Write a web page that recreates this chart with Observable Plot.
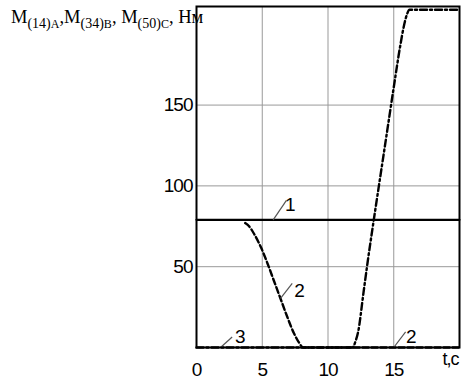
<!DOCTYPE html>
<html>
<head>
<meta charset="utf-8">
<script src="https://cdn.jsdelivr.net/npm/d3@7"></script>
<script src="https://cdn.jsdelivr.net/npm/@observablehq/plot@0.6"></script>
<style>
  html, body { margin: 0; padding: 0; background: white; }
  #chart { position: relative; width: 462px; height: 383px; }
</style>
</head>
<body>
<div id="chart"></div>
<script>
// Tick values
const xTicks = [0, 5, 10, 15];
const yTicks = [50, 100, 150];

// Curve 1: constant moment
const t1 = [0, 20];
const m1 = [79, 79];

// Curve 2 (dashed)
const t2 = [3.7, 4.0, 4.4, 4.9, 5.4, 5.9, 6.4, 6.9, 7.4, 7.8, 8.1, 20];
const m2 = [77, 75, 70, 62, 52, 41, 30, 19, 9, 3, 0, 0];

// Curve 3 (dash-dot)
const t3 = [0, 11.85, 12.1, 12.3, 12.7, 13.0, 13.5, 14.0, 14.5, 15.0, 15.5, 15.8, 16.0, 16.2, 20];
const m3 = [0, 0, 4, 10, 34, 52, 80, 107, 134, 161, 187, 200, 206, 209, 209];

// Curve labels with leader lines
const labelText = ["1", "2", "3", "2"];
const labelT = [7.1, 7.8, 3.3, 16.3];
const labelM = [88, 35, 6.5, 6.5];
const leaderT1 = [5.83, 6.39, 1.83, 15.0];
const leaderM1 = [79, 30.4, 0, 0];
const leaderT2 = [6.84, 7.28, 2.71, 15.9];
const leaderM2 = [91, 39.7, 6.5, 9.6];

const toPts = (ts, ms) => ts.map((t, i) => ({t, m: ms[i]}));
const labels = labelText.map((s, i) => ({s, t: labelT[i], m: labelM[i]}));
const leaders = labelText.map((s, i) => ({x1: leaderT1[i], y1: leaderM1[i], x2: leaderT2[i], y2: leaderM2[i]}));

const sansFont = "'Liberation Sans', Arial, sans-serif";

const svg = Plot.plot({
  width: 462,
  height: 383,
  marginLeft: 196,
  marginRight: 3,
  marginTop: 6,
  marginBottom: 36,
  style: {fontFamily: sansFont, fontSize: "19px", background: "white", color: "black", letterSpacing: "-1px"},
  x: {domain: [0, 20]},
  y: {domain: [0, 211]},
  marks: [
    Plot.gridX(xTicks, {stroke: "#999", strokeOpacity: 1, strokeWidth: 1}),
    Plot.gridY(yTicks, {stroke: "#999", strokeOpacity: 1, strokeWidth: 1}),
    Plot.axisX(xTicks, {tickSize: 0, tickPadding: 15, label: null, fontSize: 19}),
    Plot.axisY(yTicks, {tickSize: 0, tickPadding: 4, label: null, fontSize: 19}),
    Plot.text(["t,c"], {frameAnchor: "bottom-right", textAnchor: "end", dy: 17, dx: -1, fontSize: 18}),
    Plot.line(toPts(t1, m1), {x: "t", y: "m", stroke: "black", strokeWidth: 2.2}),
    Plot.line(toPts(t2, m2), {x: "t", y: "m", stroke: "black", strokeWidth: 2.4, strokeDasharray: "6,3", curve: "monotone-x"}),
    Plot.line(toPts(t3, m3), {x: "t", y: "m", stroke: "black", strokeWidth: 2.4, strokeDasharray: "7,3,2,3", curve: "monotone-x"}),
    Plot.link(leaders, {x1: "x1", y1: "y1", x2: "x2", y2: "y2", stroke: "#555", strokeWidth: 1.2}),
    Plot.text(labels, {x: "t", y: "m", text: "s", fontSize: 19}),
    Plot.frame({stroke: "black", strokeWidth: 2})
  ]
});

document.getElementById("chart").appendChild(svg);

// Y-axis title with subscripts
const title = d3.select(svg).append("text")
  .attr("x", 11)
  .attr("y", 23)
  .attr("text-anchor", "start")
  .attr("letter-spacing", "0px")
  .attr("font-family", "'Liberation Serif', 'Times New Roman', serif")
  .attr("font-size", 18.5)
  .attr("fill", "black");
const parts = [
  ["M", 0], ["(14)", 1], ["A", 2], [",M", 0], ["(34)", 1], ["B", 2], [", M", 0], ["(50)", 1], ["C", 2], [", Нм", 0]
];
parts.forEach(([s, k], i) => {
  const prev = i > 0 ? parts[i - 1][1] : 0;
  const cur = k === 0 ? 0 : 5;
  const pv = prev === 0 ? 0 : 5;
  const ts = title.append("tspan").text(s).attr("dy", cur - pv);
  if (k === 1) ts.attr("font-size", 14);
  if (k === 2) ts.attr("font-size", 12);
});
</script>
</body>
</html>
